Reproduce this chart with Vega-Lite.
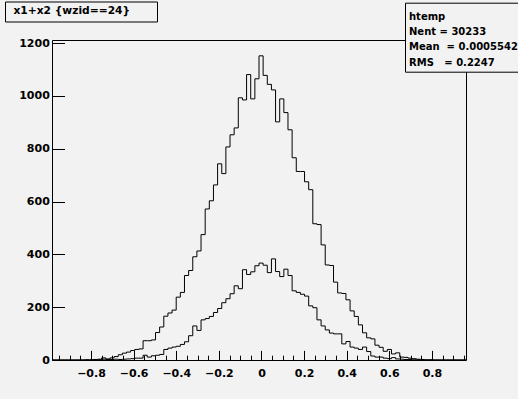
{
  "$schema": "https://vega.github.io/schema/vega-lite/v6.json",
  "width": 414,
  "height": 320,
  "autosize": {"type": "none"},
  "padding": {"left": 52, "top": 40, "right": 52, "bottom": 39},
  "background": "#f2f2f2",
  "config": {
    "view": {"stroke": "black", "strokeWidth": 1, "fill": "#f2f2f2"},
    "font": "DejaVu Sans",
    "axis": {"labelFont": "DejaVu Sans", "labelFontWeight": "bold", "labelFontSize": 11, "labelColor": "black", "domain": false, "grid": false, "tickColor": "black", "tickWidth": 1, "title": null, "labelOverlap": false, "labelFlush": false, "labelBound": false}
  },
  "datasets": {
    "hist": [
      {"x": -0.9830, "a": 0, "b": 0}, {"x": -0.9636, "a": 0, "b": 0}, {"x": -0.9441, "a": 0, "b": 0}, {"x": -0.9247, "a": 0, "b": 0},
      {"x": -0.9053, "a": 0, "b": 0}, {"x": -0.8859, "a": 0, "b": 0}, {"x": -0.8664, "a": 0, "b": 0}, {"x": -0.8470, "a": 0, "b": 0},
      {"x": -0.8276, "a": 1, "b": 0}, {"x": -0.8081, "a": 1, "b": 0}, {"x": -0.7887, "a": 2, "b": 1}, {"x": -0.7693, "a": 3, "b": 1},
      {"x": -0.7499, "a": 8, "b": 3}, {"x": -0.7304, "a": 4, "b": 2}, {"x": -0.7110, "a": 8, "b": 2}, {"x": -0.6916, "a": 13, "b": 3},
      {"x": -0.6721, "a": 20, "b": 2}, {"x": -0.6527, "a": 26, "b": 3}, {"x": -0.6333, "a": 30, "b": 4}, {"x": -0.6139, "a": 36, "b": 5},
      {"x": -0.5944, "a": 40, "b": 7}, {"x": -0.5750, "a": 42, "b": 7}, {"x": -0.5556, "a": 73, "b": 18}, {"x": -0.5362, "a": 73, "b": 11},
      {"x": -0.5167, "a": 76, "b": 16}, {"x": -0.4973, "a": 104, "b": 18}, {"x": -0.4779, "a": 125, "b": 21}, {"x": -0.4584, "a": 166, "b": 40},
      {"x": -0.4390, "a": 178, "b": 45}, {"x": -0.4196, "a": 189, "b": 49}, {"x": -0.4002, "a": 238, "b": 52}, {"x": -0.3807, "a": 256, "b": 59},
      {"x": -0.3613, "a": 320, "b": 69}, {"x": -0.3419, "a": 339, "b": 92}, {"x": -0.3224, "a": 391, "b": 129}, {"x": -0.3030, "a": 413, "b": 112},
      {"x": -0.2836, "a": 475, "b": 152}, {"x": -0.2642, "a": 572, "b": 157}, {"x": -0.2447, "a": 603, "b": 165}, {"x": -0.2253, "a": 663, "b": 180},
      {"x": -0.2059, "a": 743, "b": 195}, {"x": -0.1864, "a": 706, "b": 217}, {"x": -0.1670, "a": 807, "b": 232}, {"x": -0.1476, "a": 853, "b": 251},
      {"x": -0.1282, "a": 879, "b": 281}, {"x": -0.1087, "a": 993, "b": 270}, {"x": -0.0893, "a": 985, "b": 342}, {"x": -0.0699, "a": 1081, "b": 324},
      {"x": -0.0505, "a": 989, "b": 334}, {"x": -0.0310, "a": 1065, "b": 357}, {"x": -0.0116, "a": 1152, "b": 367}, {"x": 0.0078, "a": 1078, "b": 359},
      {"x": 0.0273, "a": 1044, "b": 331}, {"x": 0.0467, "a": 1023, "b": 383}, {"x": 0.0661, "a": 902, "b": 335}, {"x": 0.0855, "a": 989, "b": 316},
      {"x": 0.1050, "a": 937, "b": 344}, {"x": 0.1244, "a": 872, "b": 320}, {"x": 0.1438, "a": 766, "b": 262}, {"x": 0.1633, "a": 714, "b": 256},
      {"x": 0.1827, "a": 714, "b": 249}, {"x": 0.2021, "a": 675, "b": 242}, {"x": 0.2215, "a": 645, "b": 205}, {"x": 0.2410, "a": 516, "b": 198},
      {"x": 0.2604, "a": 513, "b": 152}, {"x": 0.2798, "a": 436, "b": 129}, {"x": 0.2992, "a": 360, "b": 114}, {"x": 0.3187, "a": 358, "b": 102},
      {"x": 0.3381, "a": 295, "b": 99}, {"x": 0.3575, "a": 254, "b": 99}, {"x": 0.3770, "a": 252, "b": 61}, {"x": 0.3964, "a": 228, "b": 70},
      {"x": 0.4158, "a": 186, "b": 49}, {"x": 0.4352, "a": 165, "b": 45}, {"x": 0.4547, "a": 133, "b": 40}, {"x": 0.4741, "a": 103, "b": 49},
      {"x": 0.4935, "a": 84, "b": 32}, {"x": 0.5130, "a": 80, "b": 15}, {"x": 0.5324, "a": 56, "b": 11}, {"x": 0.5518, "a": 48, "b": 11},
      {"x": 0.5712, "a": 33, "b": 7}, {"x": 0.5907, "a": 40, "b": 5}, {"x": 0.6101, "a": 23, "b": 9}, {"x": 0.6295, "a": 27, "b": 4},
      {"x": 0.6490, "a": 11, "b": 3}, {"x": 0.6684, "a": 10, "b": 2}, {"x": 0.6878, "a": 7, "b": 2}, {"x": 0.7072, "a": 5, "b": 1},
      {"x": 0.7267, "a": 3, "b": 1}, {"x": 0.7461, "a": 2, "b": 0}, {"x": 0.7655, "a": 1, "b": 0}, {"x": 0.7849, "a": 1, "b": 0},
      {"x": 0.8044, "a": 0, "b": 0}, {"x": 0.8238, "a": 0, "b": 0}, {"x": 0.8432, "a": 0, "b": 0}, {"x": 0.8627, "a": 0, "b": 0},
      {"x": 0.8821, "a": 0, "b": 0}, {"x": 0.9015, "a": 0, "b": 0}, {"x": 0.9209, "a": 0, "b": 0}, {"x": 0.9404, "a": 0, "b": 0},
      {"x": 0.9598, "a": 0, "b": 0}
    ],
    "stats": [
      {"line": "htemp"},
      {"line": "Nent = 30233"},
      {"line": "Mean\u00a0\u00a0= 0.0005542"},
      {"line": "RMS\u00a0\u00a0\u00a0= 0.2247"}
    ],
    "titlebox": [
      {"t": "x1+x2 {wzid==24}\u00a0\u00a0\u00a0\u00a0\u00a0\u00a0\u200d"}
    ]
  },
  "resolve": {"axis": {"x": "independent"}},
  "layer": [
    {
      "data": {"name": "hist"},
      "mark": {"type": "line", "interpolate": "step-after", "color": "black", "strokeWidth": 1},
      "encoding": {
        "x": {
          "field": "x", "type": "quantitative",
          "scale": {"domain": [-0.983, 0.9598], "nice": false, "zero": false},
          "axis": {
            "orient": "bottom",
            "values": [-0.8, -0.6, -0.4, -0.2, 0, 0.2, 0.4, 0.6, 0.8],
            "tickSize": -9.6,
            "format": ".1f",
            "labelExpr": "datum.value == 0 ? '0' : datum.label",
            "labelPadding": 16.8
          }
        },
        "y": {
          "field": "a", "type": "quantitative",
          "scale": {"domain": [0, 1212], "nice": false},
          "axis": {
            "values": [0, 50, 100, 150, 200, 250, 300, 350, 400, 450, 500, 550, 600, 650, 700, 750, 800, 850, 900, 950, 1000, 1050, 1100, 1150, 1200],
            "tickSize": {"condition": {"test": "datum.value % 200 == 0", "value": -12.5}, "value": -6.3},
            "labelExpr": "datum.value % 200 == 0 ? '' + datum.value : ''",
            "labelPadding": 15.2
          }
        }
      }
    },
    {
      "data": {"name": "hist"},
      "mark": {"type": "line", "interpolate": "step-after", "color": "black", "strokeWidth": 1},
      "encoding": {
        "x": {
          "field": "x", "type": "quantitative",
          "axis": {
            "orient": "bottom",
            "values": [-0.95, -0.9, -0.85, -0.75, -0.7, -0.65, -0.55, -0.5, -0.45, -0.35, -0.3, -0.25, -0.15, -0.1, -0.05, 0.05, 0.1, 0.15, 0.25, 0.3, 0.35, 0.45, 0.5, 0.55, 0.65, 0.7, 0.75, 0.85, 0.9, 0.95],
            "tickSize": -4.8,
            "labels": false
          }
        },
        "y": {"field": "b", "type": "quantitative"}
      }
    },
    {
      "data": {"name": "stats"},
      "mark": {"type": "point", "opacity": 0},
      "encoding": {
        "color": {
          "field": "line", "type": "nominal",
          "scale": {"domain": ["htemp", "Nent = 30233", "Mean\u00a0\u00a0= 0.0005542", "RMS\u00a0\u00a0\u00a0= 0.2247"], "range": ["black", "black", "black", "black"]},
          "legend": {
            "orient": "none", "legendX": 353, "legendY": -37.3,
            "title": "\u00a0", "titleFontSize": 3, "titlePadding": 2,
            "padding": 4, "strokeColor": "black", "fillColor": "#f2f2f2", "cornerRadius": 0,
            "labelFont": "DejaVu Sans", "labelFontWeight": "bold", "labelFontSize": 10, "labelColor": "black",
            "symbolSize": 0, "symbolOpacity": 0, "symbolStrokeWidth": 0, "labelOffset": -10, "rowPadding": 5.3, "labelLimit": 300
          }
        }
      }
    },
    {
      "data": {"name": "titlebox"},
      "mark": {"type": "point", "opacity": 0},
      "encoding": {
        "shape": {
          "field": "t", "type": "nominal",
          "legend": {
            "orient": "none", "legendX": -47, "legendY": -38.5,
            "title": null,
            "padding": 4.5, "strokeColor": "black", "fillColor": "#f2f2f2", "cornerRadius": 0,
            "labelFont": "DejaVu Sans", "labelFontWeight": "bold", "labelFontSize": 10.7, "labelColor": "black",
            "symbolSize": 0, "symbolOpacity": 0, "symbolStrokeWidth": 0, "labelOffset": -6.8, "labelLimit": 300
          }
        }
      }
    }
  ]
}
